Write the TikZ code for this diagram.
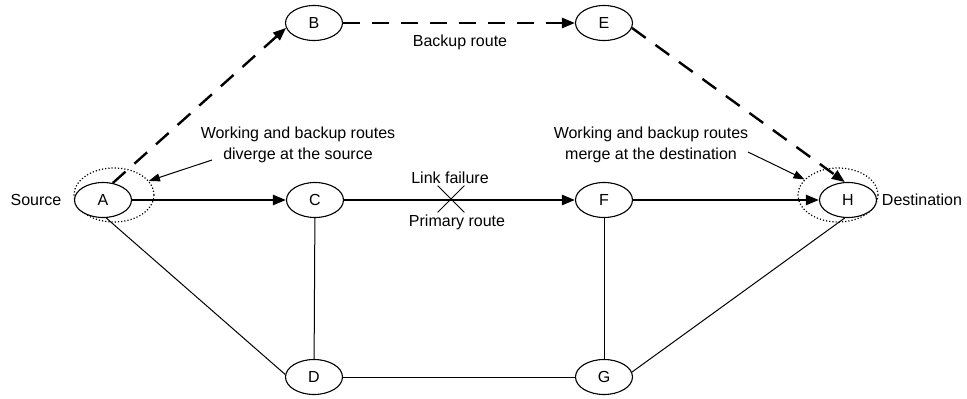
\documentclass[tikz,border=0pt]{standalone}
\usepackage{fontspec}
\setmainfont{Liberation Sans}
\usetikzlibrary{shapes.geometric,shapes.misc,arrows.meta}
\begin{document}
\begin{tikzpicture}[x=1pt,y=-1pt,
  every node/.style={font=\fontsize{16}{21}\selectfont},
  nd/.style={ellipse,draw,line width=1.1pt,minimum width=57pt,minimum height=35pt,inner sep=0pt,fill=white},
  prim/.style={line width=2.4pt,-{Triangle[length=13pt,width=10pt]}},
  bkp/.style={line width=2.4pt,dash pattern=on 17pt off 12pt,-{Triangle[length=13pt,width=10pt]}},
  thinl/.style={line width=1pt},
  note/.style={line width=1pt,-{Triangle[length=11pt,width=8pt]}},
  region/.style={ellipse,draw,dotted,line width=1.2pt,minimum width=80pt,minimum height=54pt,inner sep=0pt},
  lbl/.style={align=center,inner sep=0pt}]
\useasboundingbox (0,0) rectangle (967,399);
% dotted regions
\node[region] (regA) at (114,195) {};
\node[region] (regH) at (838,195) {};
% nodes
\node[nd] (A) at (103,200) {A};
\node[nd] (B) at (314,23) {B};
\node[nd] (C) at (315,200) {C};
\node[nd] (D) at (314,377) {D};
\node[nd] (E) at (604,23) {E};
\node[nd] (F) at (604,200) {F};
\node[nd] (G) at (604,377) {G};
\node[nd] (H) at (848,200) {H};
% labels
\node[lbl] (src) at (36,200) {Source};
\node[lbl] (dst) at (922,200) {Destination};
\node[lbl] (bkr) at (460,42) {Backup route};
\node[lbl] (lf) at (450,178) {Link failure};
\node[lbl] (pr) at (457,222) {Primary route};
\node[lbl] (lblL) at (298,145) {Working and backup routes\\diverge at the source};
\node[lbl] (lblR) at (651,145) {Working and backup routes\\merge at the destination};
% primary route
\draw[prim] (A) -- (C);
\draw[prim] (C) -- (F);
\draw[prim] (F) -- (H);
\node[cross out,draw,line width=0.8pt,minimum size=26pt,inner sep=0pt] (X) at (451,199) {};
% backup route
\draw[bkp] (A.60) -- (B.190);
\draw[bkp] (B) -- (E);
\draw[bkp] (E.-10) -- (H.100);
% other links
\draw[thinl] (A.-80) -- (D.175);
\draw[thinl] (C) -- (D);
\draw[thinl] (D) -- (G);
\draw[thinl] (F) -- (G);
\draw[thinl] (G.10) -- (H.-100);
% annotation arrows
\coordinate (tL) at (212,160);
\coordinate (tR) at (748,152);
\draw[note] (tL) -- (regA.22);
\draw[note] (tR) -- (regH.155);
\end{tikzpicture}
\end{document}
